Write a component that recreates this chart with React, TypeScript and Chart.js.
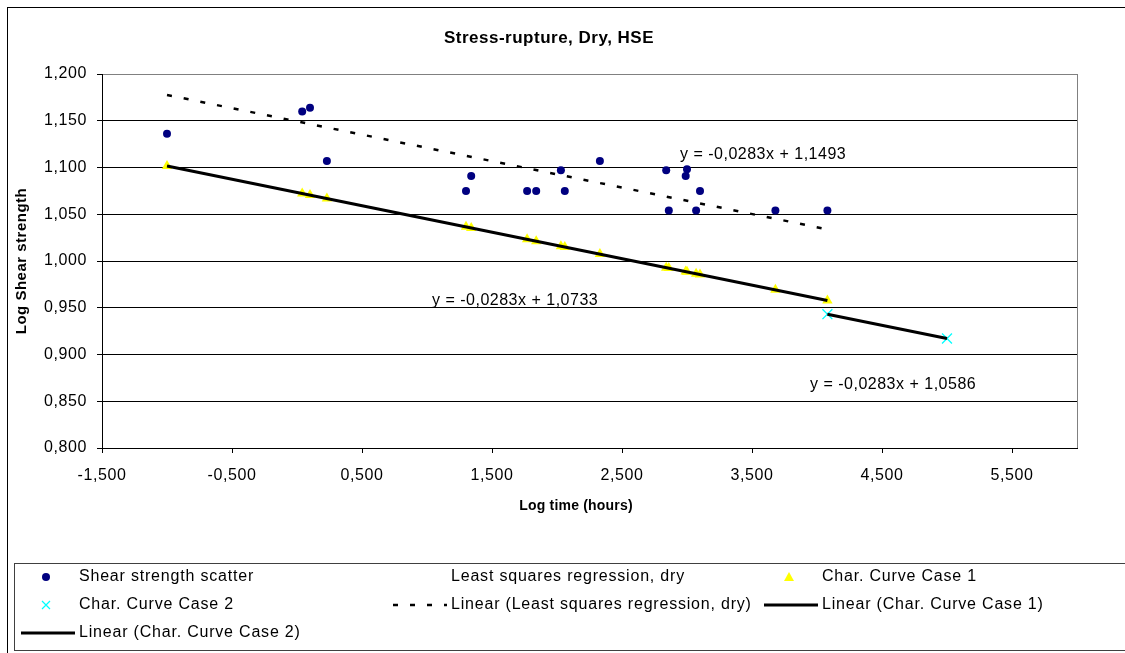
import React, { useEffect, useRef } from "react";
import { Chart, registerables } from "chart.js";

Chart.register(...registerables);

const FONT = "'Liberation Sans', Arial, sans-serif";

const chartTitle = "Stress-rupture, Dry, HSE";
const xAxisTitle = "Log time (hours)";
const yAxisTitle = "Log Shear strength";

const xTickValues = [-1.5, -0.5, 0.5, 1.5, 2.5, 3.5, 4.5, 5.5];
const yTickValues = [0.8, 0.85, 0.9, 0.95, 1.0, 1.05, 1.1, 1.15, 1.2];

const seriesLabels = [
  "Shear strength scatter",
  "Least squares regression, dry",
  "Char. Curve Case 1",
  "Char. Curve Case 2",
  "Linear (Least squares regression, dry)",
  "Linear (Char. Curve Case 1)",
  "Linear (Char. Curve Case 2)",
];

const scatterX = [-1.0, 0.04, 0.1, 0.23, 1.3, 1.34, 1.77, 1.84, 2.03, 2.06, 2.33, 2.84, 2.86, 3.0, 2.99, 3.07, 3.1, 3.68, 4.08];
const scatterY = [1.136, 1.16, 1.164, 1.107, 1.075, 1.091, 1.075, 1.075, 1.097, 1.075, 1.107, 1.097, 1.054, 1.098, 1.091, 1.054, 1.075, 1.054, 1.054];

const case1X = [-1.0, 0.04, 0.1, 0.23, 1.3, 1.34, 1.77, 1.84, 2.03, 2.06, 2.33, 2.84, 2.86, 3.0, 2.99, 3.07, 3.1, 3.68, 4.08];
const case1Y = [1.1016, 1.0722, 1.0705, 1.0668, 1.0365, 1.0354, 1.0232, 1.0212, 1.0159, 1.015, 1.0074, 0.9929, 0.9924, 0.9884, 0.9887, 0.9864, 0.9856, 0.9692, 0.9578];

const case2X = [4.08, 5.0];
const case2Y = [0.9431, 0.9171];

// trendlines (Excel linear fits): y = slope * x + intercept
const trendSlopes = [-0.0283, -0.0283, -0.0283];
const trendIntercepts = [1.1493, 1.0733, 1.0586];
const trendFrom = [-1.0, -1.0, 4.08];
const trendTo = [4.08, 4.08, 5.0];
const equationTexts = ["y = -0,0283x + 1,1493", "y = -0,0283x + 1,0733", "y = -0,0283x + 1,0586"];

const fmt = (v: number) => {
  const s = Number(v).toFixed(3).replace(".", ",");
  return s === "-0,000" ? "0,000" : s;
};

const pts = (xs: number[], ys: number[]) => xs.map((x, i) => ({ x, y: ys[i] }));
const trendPts = (i: number) => [
  { x: trendFrom[i], y: trendSlopes[i] * trendFrom[i] + trendIntercepts[i] },
  { x: trendTo[i], y: trendSlopes[i] * trendTo[i] + trendIntercepts[i] },
];

function drawMarker(ctx: CanvasRenderingContext2D, kind: string, x: number, y: number, color: string) {
  ctx.save();
  if (kind === "circle") {
    ctx.fillStyle = color;
    ctx.beginPath();
    ctx.arc(x, y, 4, 0, Math.PI * 2);
    ctx.fill();
  } else if (kind === "triangle") {
    ctx.fillStyle = color;
    ctx.beginPath();
    ctx.moveTo(x, y - 5);
    ctx.lineTo(x + 5, y + 4);
    ctx.lineTo(x - 5, y + 4);
    ctx.closePath();
    ctx.fill();
  } else if (kind === "cross") {
    ctx.strokeStyle = color;
    ctx.lineWidth = 1.2;
    ctx.beginPath();
    ctx.moveTo(x - 4, y - 4);
    ctx.lineTo(x + 4, y + 4);
    ctx.moveTo(x + 4, y - 4);
    ctx.lineTo(x - 4, y + 4);
    ctx.stroke();
  }
  ctx.restore();
}

const legendColX = [21, 393, 764];
const legendRowY = [577, 605, 633];
const equationPos = [
  [680, 155],
  [432, 301],
  [810, 385],
];

const spacingPlugin = {
  id: "spacing",
  beforeDraw(chart: any) {
    (chart.ctx as any).letterSpacing = "0.6px";
  },
};

const decorPlugin = {
  id: "decor",
  afterDraw(chart: any) {
    const ctx: any = chart.ctx;
    const a = chart.chartArea;
    ctx.save();
    // outer frame
    ctx.strokeStyle = "#000";
    ctx.lineWidth = 1;
    ctx.strokeRect(7.5, 7.5, 1200, 800);
    // plot area right border
    ctx.strokeStyle = "#808080";
    ctx.beginPath();
    ctx.moveTo(Math.round(a.right) + 0.5, a.top);
    ctx.lineTo(Math.round(a.right) + 0.5, a.bottom);
    ctx.stroke();

    // title
    ctx.fillStyle = "#000";
    ctx.letterSpacing = "0.5px";
    ctx.font = `bold 17px ${FONT}`;
    ctx.textAlign = "center";
    ctx.textBaseline = "middle";
    ctx.fillText(chartTitle, 549, 38);
    // axis titles
    ctx.font = `bold 14px ${FONT}`;
    ctx.letterSpacing = "0.2px";
    ctx.fillText(xAxisTitle, 576, 506);
    ctx.save();
    ctx.font = `bold 15px ${FONT}`;
    ctx.letterSpacing = "0.5px";
    ctx.translate(22, (a.top + a.bottom) / 2);
    ctx.rotate(-Math.PI / 2);
    ctx.fillText(yAxisTitle, 0, 0);
    ctx.restore();

    // equations
    ctx.font = `16px ${FONT}`;
    ctx.letterSpacing = "0.5px";
    ctx.textAlign = "left";
    equationTexts.forEach((t, i) => ctx.fillText(t, equationPos[i][0], equationPos[i][1]));

    // legend
    ctx.strokeStyle = "#404040";
    ctx.strokeRect(14.5, 563.5, 1200, 87);
    ctx.font = `16px ${FONT}`;
    ctx.letterSpacing = "0.8px";
    chart.data.datasets.forEach((ds: any, i: number) => {
      const col = i % 3;
      const row = Math.floor(i / 3);
      const x0 = legendColX[col];
      const y = legendRowY[row];
      const kind = ds._legendKind;
      if (kind === "line") {
        ctx.save();
        ctx.strokeStyle = ds.borderColor;
        ctx.lineWidth = ds.borderWidth;
        ctx.setLineDash(ds.borderDash || []);
        ctx.beginPath();
        ctx.moveTo(x0, y);
        ctx.lineTo(x0 + 54, y);
        ctx.stroke();
        ctx.restore();
      } else if (kind) {
        drawMarker(ctx, kind, x0 + 25, y, ds.backgroundColor);
      }
      ctx.fillStyle = "#000";
      ctx.fillText(ds.label, x0 + 58, y);
    });
    ctx.restore();
  },
};

export default function App() {
  const ref = useRef<HTMLCanvasElement | null>(null);
  useEffect(() => {
    document.body.style.margin = "0";
    const canvas = ref.current!;
    const datasets: any[] = [
      {
        label: seriesLabels[0],
        data: pts(scatterX, scatterY),
        showLine: false,
        pointStyle: "circle",
        pointRadius: 4,
        pointHoverRadius: 4,
        backgroundColor: "#000080",
        borderColor: "#000080",
        borderWidth: 0,
        order: 1,
        _legendKind: "circle",
      },
      {
        label: seriesLabels[1],
        data: pts(scatterX, scatterY),
        showLine: false,
        pointRadius: 0,
        pointHoverRadius: 0,
        borderWidth: 0,
        backgroundColor: "rgba(0,0,0,0)",
        borderColor: "rgba(0,0,0,0)",
        order: 1,
        _legendKind: null,
      },
      {
        label: seriesLabels[2],
        data: pts(case1X, case1Y),
        showLine: false,
        pointStyle: "triangle",
        pointRadius: 6,
        pointHoverRadius: 6,
        backgroundColor: "#FFFF00",
        borderColor: "#FFFF00",
        borderWidth: 0,
        order: 1,
        _legendKind: "triangle",
      },
      {
        label: seriesLabels[3],
        data: pts(case2X, case2Y),
        showLine: false,
        pointStyle: "crossRot",
        pointRadius: 7,
        pointHoverRadius: 7,
        backgroundColor: "#00FFFF",
        borderColor: "#00FFFF",
        borderWidth: 1.3,
        order: 1,
        _legendKind: "cross",
      },
      {
        label: seriesLabels[4],
        data: trendPts(0),
        showLine: true,
        pointRadius: 0,
        borderColor: "#000",
        backgroundColor: "#000",
        borderWidth: 2.5,
        borderDash: [5, 12],
        order: 0,
        _legendKind: "line",
      },
      {
        label: seriesLabels[5],
        data: trendPts(1),
        showLine: true,
        pointRadius: 0,
        borderColor: "#000",
        backgroundColor: "#000",
        borderWidth: 3,
        order: 0,
        _legendKind: "line",
      },
      {
        label: seriesLabels[6],
        data: trendPts(2),
        showLine: true,
        pointRadius: 0,
        borderColor: "#000",
        backgroundColor: "#000",
        borderWidth: 3,
        order: 0,
        _legendKind: "line",
      },
    ];

    const chart = new Chart(canvas, {
      type: "scatter",
      data: { datasets },
      options: {
        responsive: false,
        animation: false,
        events: [],
        layout: { padding: { left: 0, top: 74, right: 48, bottom: 155 } },
        plugins: { legend: { display: false }, title: { display: false }, tooltip: { enabled: false } },
        scales: {
          x: {
            type: "linear",
            min: -1.5,
            max: 6,
            afterBuildTicks: (s: any) => {
              s.ticks = xTickValues.map((v) => ({ value: v }));
            },
            afterFit: (s: any) => {
              s.height = 50;
            },
            ticks: {
              callback: (v: any) => fmt(v),
              font: { family: FONT, size: 16 },
              color: "#000",
              padding: 13,
              maxRotation: 0,
              autoSkip: false,
            },
            grid: { drawOnChartArea: false, drawTicks: true, tickLength: 5, color: "#000" },
            border: { display: true, color: "#000", width: 1 },
          },
          y: {
            type: "linear",
            min: 0.8,
            max: 1.2,
            afterBuildTicks: (s: any) => {
              s.ticks = yTickValues.map((v) => ({ value: v }));
            },
            afterFit: (s: any) => {
              s.width = 102;
            },
            ticks: {
              callback: (v: any) => fmt(v),
              font: { family: FONT, size: 16 },
              color: "#000",
              padding: 10,
            },
            grid: {
              color: (c: any) => (c.tick && Math.abs(c.tick.value - 1.2) < 1e-9 ? "#808080" : "#000"),
              tickColor: "#000",
              drawTicks: true,
              tickLength: 5,
            },
            border: { display: true, color: "#000", width: 1 },
          },
        },
      },
      plugins: [spacingPlugin, decorPlugin],
    });
    return () => chart.destroy();
  }, []);
  return <canvas ref={ref} width={1125} height={653} style={{ display: "block" }} />;
}
